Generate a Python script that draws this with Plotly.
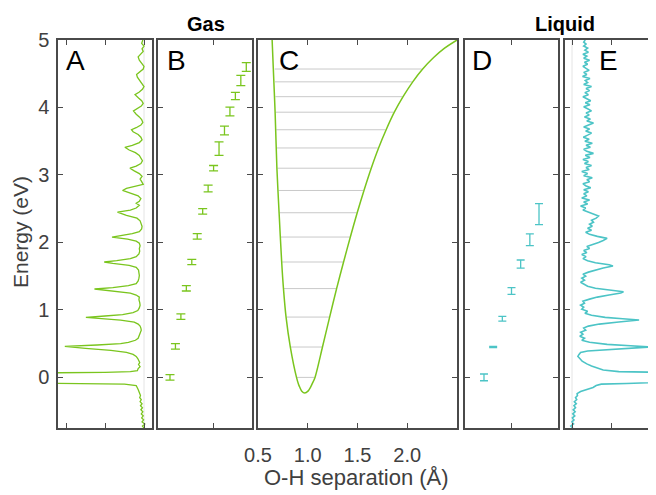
import plotly.graph_objects as go

# ---------------- data ----------------
GREEN = "#7ac51e"
TEAL = "#4cc4c6"

# Panel A: gas-phase spectrum (energy eV, intensity a.u., peaks drawn leftwards)
A_E = [-0.75, -0.72, -0.69, -0.66, -0.63, -0.60, -0.57, -0.54, -0.51, -0.48, -0.45, -0.42, -0.39,
       -0.36, -0.33, -0.30, -0.27, -0.24, -0.21, -0.18, -0.15, -0.12, -0.10, -0.095, -0.085, 0.0,
       0.065, 0.075, 0.085, 0.10, 0.13, 0.16, 0.19, 0.22, 0.25, 0.28, 0.31, 0.34, 0.37, 0.40, 0.43,
       0.46, 0.48, 0.50, 0.52, 0.55, 0.58, 0.61, 0.64, 0.67, 0.70, 0.73, 0.76, 0.79, 0.82, 0.85, 0.87,
       0.89, 0.91, 0.93, 0.96, 0.99, 1.03, 1.07, 1.11, 1.15, 1.19, 1.22, 1.25, 1.28, 1.31, 1.33, 1.36,
       1.39, 1.43, 1.47, 1.51, 1.55, 1.59, 1.63, 1.66, 1.69, 1.71, 1.73, 1.76, 1.79, 1.83, 1.87, 1.91,
       1.95, 1.99, 2.02, 2.05, 2.08, 2.10, 2.13, 2.16, 2.20, 2.24, 2.28, 2.32, 2.36, 2.40, 2.45, 2.48,
       2.51, 2.55, 2.58, 2.61, 2.65, 2.69, 2.73, 2.77, 2.80, 2.83, 2.86, 2.90, 2.94, 2.98, 3.02, 3.06,
       3.10, 3.13, 3.17, 3.21, 3.25, 3.29, 3.33, 3.37, 3.41, 3.44, 3.48, 3.52, 3.56, 3.60, 3.64, 3.67,
       3.70, 3.74, 3.78, 3.82, 3.86, 3.90, 3.95, 3.98, 4.02, 4.06, 4.10, 4.14, 4.19, 4.23, 4.27, 4.31,
       4.35, 4.40, 4.45, 4.49, 4.53, 4.57, 4.61, 4.65, 4.70, 4.75, 4.79, 4.83, 4.87, 4.91, 4.95, 5.0]
A_I = [0.00, 0.04, -0.02, 0.05, 0.01, 0.06, 0.02, 0.07, 0.03, 0.08, 0.04, 0.09, 0.05,
       0.10, 0.07, 0.11, 0.09, 0.12, 0.13, 0.15, 0.17, 0.20, 0.50, 1.00, 3.00, 6.00,
       3.00, 1.00, 0.35, 0.17, 0.15, 0.10, 0.14, 0.11, 0.13, 0.16, 0.20, 0.28, 0.45, 0.85, 1.50,
       2.03, 1.20, 0.60, 0.40, 0.22, 0.15, 0.13, 0.12, 0.10, 0.07, 0.08, 0.10, 0.15, 0.25, 0.60, 1.10,
       1.49, 1.00, 0.55, 0.28, 0.16, 0.12, 0.10, 0.11, 0.13, 0.12, 0.20, 0.35, 0.85, 1.27, 0.80, 0.40,
       0.20, 0.15, 0.13, 0.12, 0.13, 0.14, 0.20, 0.38, 0.80, 1.02, 0.70, 0.35, 0.20, 0.13, 0.11, 0.12,
       0.10, 0.12, 0.20, 0.42, 0.82, 0.60, 0.30, 0.12, 0.06, 0.05, 0.07, 0.10, 0.18, 0.45, 0.68, 0.35,
       0.20, 0.12, 0.20, 0.12, 0.08, 0.15, 0.35, 0.55, 0.45, 0.20, 0.02, 0.06, 0.10, 0.05, 0.12, 0.25,
       0.36, 0.20, 0.08, 0.04, 0.08, 0.12, 0.22, 0.38, 0.49, 0.30, 0.12, 0.05, 0.08, 0.15, 0.28, 0.32,
       0.20, 0.08, 0.03, 0.06, 0.12, 0.20, 0.27, 0.18, 0.07, 0.02, 0.06, 0.14, 0.23, 0.12, 0.04, 0.00,
       0.05, 0.10, 0.17, 0.19, 0.10, 0.02, 0.00, 0.05, 0.12, 0.15, 0.08, 0.02, 0.05, 0.00, 0.06, 0.03]

# Panel B: gas-phase vibrational levels with error bars
B_v = [0, 1, 2, 3, 4, 5, 6, 7, 8, 9, 10, 11, 12, 13, 14]
B_E = [0.0, 0.46, 0.90, 1.32, 1.71, 2.09, 2.46, 2.80, 3.10, 3.39, 3.66, 3.94, 4.17, 4.40, 4.60]
B_err = [0.04, 0.04, 0.04, 0.04, 0.04, 0.04, 0.04, 0.05, 0.04, 0.10, 0.065, 0.065, 0.055, 0.075, 0.065]

# Panel C: O-H potential curve (separation in Angstrom, energy eV)
pot_r = [0.642, 0.654, 0.672, 0.690, 0.712, 0.738, 0.756, 0.782, 0.825, 0.887, 0.907, 0.921,
         0.938, 0.970, 1.005, 1.026, 1.043, 1.073, 1.148, 1.220, 1.290, 1.360, 1.428, 1.497,
         1.565, 1.638, 1.712, 1.788, 1.870, 1.958, 2.055, 2.155, 2.265, 2.375, 2.500]
pot_E = [5.0, 4.57, 3.93, 3.10, 2.44, 1.71, 1.316, 0.894, 0.45, 0.0, -0.10, -0.15,
         -0.20, -0.233, -0.20, -0.15, -0.10, 0.0, 0.45, 0.894, 1.316, 1.71, 2.08, 2.44,
         2.77, 3.10, 3.40, 3.67, 3.93, 4.16, 4.38, 4.57, 4.74, 4.88, 5.0]
lev_E = [0.0, 0.45, 0.894, 1.316, 1.71, 2.08, 2.44, 2.77, 3.10, 3.40, 3.67, 3.93, 4.16, 4.38, 4.57]
lev_L = [0.889, 0.826, 0.786, 0.760, 0.742, 0.726, 0.716, 0.706, 0.696, 0.689, 0.684, 0.679, 0.675, 0.671, 0.668]
lev_R = [1.068, 1.143, 1.215, 1.285, 1.355, 1.422, 1.491, 1.558, 1.631, 1.705, 1.780, 1.862, 1.950, 2.046, 2.145]

# Panel D: liquid-phase vibrational levels with error bars
D_v = [0, 1, 2, 3, 4, 5, 6]
D_E = [0.0, 0.45, 0.87, 1.28, 1.68, 2.04, 2.42]
D_err = [0.05, 0.01, 0.035, 0.05, 0.06, 0.087, 0.155]

# Panel E: liquid-phase spectrum
E_E = [-0.75, -0.72, -0.69, -0.66, -0.63, -0.60, -0.57, -0.54, -0.51, -0.48, -0.45, -0.42, -0.39,
       -0.36, -0.33, -0.30, -0.27, -0.24, -0.21, -0.19, -0.17, -0.15, -0.12, -0.10, -0.09, -0.08,
       0.0, 0.07, 0.085, 0.11, 0.14, 0.17, 0.20, 0.24, 0.28, 0.31, 0.34, 0.37, 0.39, 0.41, 0.43, 0.45,
       0.47, 0.49, 0.52, 0.55, 0.58, 0.61, 0.64, 0.67, 0.70, 0.73, 0.76, 0.79, 0.82, 0.85, 0.87, 0.89,
       0.92, 0.95, 0.98, 1.01, 1.04, 1.07, 1.10, 1.13, 1.16, 1.19, 1.22, 1.25, 1.27, 1.29, 1.32, 1.35,
       1.38, 1.41, 1.44, 1.47, 1.50, 1.53, 1.56, 1.59, 1.62, 1.65, 1.67, 1.70, 1.73, 1.76, 1.79, 1.82,
       1.85, 1.88, 1.91, 1.94, 1.97, 2.00, 2.03, 2.06, 2.09, 2.12, 2.15, 2.18, 2.21, 2.24, 2.27, 2.30,
       2.33, 2.36, 2.39, 2.42, 2.45, 2.48, 2.51, 2.54, 2.57, 2.60, 2.63, 2.66, 2.69, 2.72,
       2.75, 2.78, 2.81, 2.84, 2.87, 2.90, 2.93, 2.96, 2.99, 3.02, 3.05, 3.08, 3.11, 3.14, 3.17, 3.20,
       3.23, 3.26, 3.29, 3.32, 3.35, 3.38, 3.41, 3.44, 3.47, 3.50, 3.53, 3.56, 3.59, 3.62, 3.65, 3.68,
       3.71, 3.74, 3.77, 3.80, 3.83, 3.86, 3.89, 3.92, 3.95, 3.98, 4.01, 4.04, 4.07, 4.10, 4.13, 4.16,
       4.19, 4.22, 4.25, 4.28, 4.31, 4.34, 4.37, 4.40, 4.43, 4.46, 4.49, 4.52, 4.55, 4.58, 4.61, 4.64,
       4.67, 4.70, 4.73, 4.76, 4.79, 4.82, 4.85, 4.88, 4.91, 4.94, 4.97, 5.0]
E_I = [0.02, -0.03, 0.04, 0.00, 0.05, 0.01, 0.07, 0.02, 0.08, 0.03, 0.09, 0.05, 0.11,
       0.06, 0.12, 0.09, 0.14, 0.13, 0.22, 0.33, 0.38, 0.54, 0.62, 0.75, 1.40, 3.00,
       6.00, 3.00, 1.20, 0.80, 0.62, 0.50, 0.38, 0.26, 0.20, 0.15, 0.18, 0.22, 0.40, 0.90, 1.60, 2.00,
       1.50, 0.90, 0.45, 0.25, 0.32, 0.20, 0.28, 0.22, 0.35, 0.30, 0.42, 0.70, 1.20, 1.72, 1.30, 0.85,
       0.50, 0.33, 0.40, 0.25, 0.30, 0.22, 0.32, 0.28, 0.45, 0.65, 0.95, 1.25, 1.32, 1.00, 0.60, 0.40,
       0.30, 0.22, 0.32, 0.25, 0.35, 0.28, 0.42, 0.60, 0.80, 1.05, 0.95, 0.60, 0.40, 0.28, 0.36, 0.25,
       0.38, 0.30, 0.45, 0.38, 0.55, 0.68, 0.80, 0.90, 0.65, 0.45, 0.35, 0.50, 0.40, 0.52, 0.45, 0.55,
       0.50, 0.62, 0.68, 0.55, 0.40, 0.28, 0.35, 0.22, 0.40, 0.30, 0.45, 0.25, 0.38, 0.30,
       0.42, 0.30, 0.48, 0.35, 0.28, 0.45, 0.38, 0.52, 0.30, 0.40, 0.25, 0.44, 0.36, 0.50, 0.32, 0.42,
       0.28, 0.46, 0.34, 0.55, 0.38, 0.30, 0.47, 0.36, 0.52, 0.33, 0.44, 0.29, 0.40, 0.50, 0.35, 0.45,
       0.30, 0.42, 0.55, 0.38, 0.47, 0.32, 0.44, 0.36, 0.50, 0.40, 0.30, 0.46, 0.34, 0.48, 0.38, 0.28,
       0.42, 0.33, 0.45, 0.36, 0.50, 0.30, 0.40, 0.34, 0.46, 0.27, 0.38, 0.30, 0.44, 0.35, 0.28, 0.40,
       0.32, 0.45, 0.30, 0.38, 0.28, 0.42, 0.33, 0.40, 0.30, 0.36, 0.30, 0.34]

y_ticks = [0, 1, 2, 3, 4, 5]
C_ticks = [0.5, 1.0, 1.5, 2.0]
C_ticktext = ["0.5", "1.0", "1.5", "2.0"]

# ---------------- figure ----------------
# the page body keeps an 8 px margin, so the figure fills the rest of the 656x495 window
OFF = 8
W, H = 656 - OFF, 495 - OFF
def px(x):
    return (x - OFF) / W
def py(y):
    return 1 - (y - OFF) / H

FONT = "Liberation Sans, Arial, sans-serif"
AX = "#4a4a4a"
ydom = [py(428), py(40)]

fig = go.Figure()

# reference baselines
fig.add_shape(type="line", xref="x", yref="y", x0=0, x1=0, y0=-0.75, y1=5,
              line=dict(color="#e4e4e4", width=1), layer="below")
fig.add_shape(type="line", xref="x5", yref="y5", x0=0, x1=0, y0=-0.75, y1=5,
              line=dict(color="#e4e4e4", width=1), layer="below")

fig.add_trace(go.Scatter(x=A_I, y=A_E, xaxis="x", yaxis="y", mode="lines",
                         line=dict(color=GREEN, width=1.3), showlegend=False))

fig.add_trace(go.Scatter(x=B_v, y=B_E, xaxis="x2", yaxis="y2", mode="markers",
                         marker=dict(size=1, color="rgba(0,0,0,0)"),
                         error_y=dict(type="data", array=B_err, color=GREEN, thickness=1.3, width=4.5),
                         showlegend=False))

lx, ly = [], []
for e, l, r in zip(lev_E, lev_L, lev_R):
    lx += [l, r, None]
    ly += [e, e, None]
fig.add_trace(go.Scatter(x=lx, y=ly, xaxis="x3", yaxis="y3", mode="lines",
                         line=dict(color="#c9c9c9", width=1), showlegend=False))
fig.add_trace(go.Scatter(x=pot_r, y=pot_E, xaxis="x3", yaxis="y3", mode="lines",
                         line=dict(color=GREEN, width=1.5, shape="spline", smoothing=0.8),
                         showlegend=False))

fig.add_trace(go.Scatter(x=D_v, y=D_E, xaxis="x4", yaxis="y4", mode="markers",
                         marker=dict(size=1, color="rgba(0,0,0,0)"),
                         error_y=dict(type="data", array=D_err, color=TEAL, thickness=1.3, width=4),
                         showlegend=False))

fig.add_trace(go.Scatter(x=E_I, y=E_E, xaxis="x5", yaxis="y5", mode="lines",
                         line=dict(color=TEAL, width=1.6), showlegend=False))

common = dict(showline=True, linecolor=AX, linewidth=1.5, mirror="ticks", ticks="inside",
              ticklen=5, tickwidth=1.2, tickcolor=AX, showgrid=False, zeroline=False,
              automargin=False,
              tickfont=dict(family=FONT, size=20, color="#404040"))

panels = [
    ("", (58, 152), [2.205, -0.205], [0, 1, 2]),
    ("2", (158, 252), [-2.2, 15.05], [8]),
    ("3", (258, 457), [0.5, 2.5], C_ticks),
    ("4", (465, 558), [-2.07, 8.07], [3]),
    ("5", (565, 656), [-0.18, 2.154], [0, 1, 2]),
]
lay = {}
for suf, (x0, x1), rng, tv in panels:
    xa = dict(common, domain=[px(x0), min(px(x1), 1.0)], range=rng, tickvals=tv,
              anchor="y" + suf, showticklabels=False)
    if suf == "3":
        xa.update(showticklabels=True, ticktext=C_ticktext, ticklabelstandoff=8)
    ya = dict(common, domain=ydom, range=[-0.75, 5], tickvals=y_ticks,
              anchor="x" + suf, showticklabels=(suf == ""))
    if suf == "":
        ya.update(ticklabelstandoff=3)
    lay["xaxis" + suf] = xa
    lay["yaxis" + suf] = ya

annos = []
for letter, x in [("A", 64), ("B", 165), ("C", 277), ("D", 470), ("E", 597)]:
    annos.append(dict(text=letter, x=px(x), y=py(60), xref="paper", yref="paper",
                      xanchor="left", yanchor="middle", showarrow=False,
                      font=dict(family=FONT, size=28, color="black")))
annos.append(dict(text="<b>Gas</b>", x=px(206), y=py(24), xref="paper", yref="paper",
                  showarrow=False, xanchor="center", yanchor="middle",
                  font=dict(family=FONT, size=20, color="black")))
annos.append(dict(text="<b>Liquid</b>", x=px(565), y=py(24), xref="paper", yref="paper",
                  showarrow=False, xanchor="center", yanchor="middle",
                  font=dict(family=FONT, size=20, color="black")))
annos.append(dict(text="Energy (eV)", x=px(21), y=py(232), xref="paper", yref="paper",
                  showarrow=False, textangle=-90, xanchor="center", yanchor="middle",
                  borderpad=0, font=dict(family=FONT, size=21, color="#404040")))
annos.append(dict(text="O-H separation (Å)", x=px(357), y=py(477), xref="paper", yref="paper",
                  showarrow=False, xanchor="center", yanchor="middle",
                  font=dict(family=FONT, size=22, color="#404040")))

fig.update_layout(width=W, height=H, margin=dict(l=0, r=0, t=0, b=0),
                  paper_bgcolor="white", plot_bgcolor="white",
                  annotations=annos, **lay)

fig.write_html("out.html")
